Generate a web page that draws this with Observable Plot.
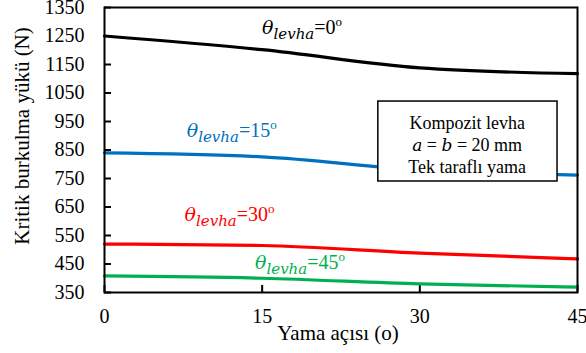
<!DOCTYPE html>
<html><head><meta charset="utf-8">
<script src="https://cdn.jsdelivr.net/npm/d3@7"></script>
<script src="https://cdn.jsdelivr.net/npm/@observablehq/plot@0.6"></script>
<style>body{margin:0;background:#fff}</style>
</head><body><div id="chart"></div>
<script>
// Data
const angles = [0, 15, 30, 45];
const plate0 = [1250, 1202, 1138, 1118];
const plate15 = [840, 826, 780, 762];
const plate30 = [520, 515, 488, 468];
const plate45 = [408, 400, 380, 369];
const seriesNames = ["0", "15", "30", "45"];
const seriesColors = ["#000000", "#0070C0", "#FF0000", "#00B050"];
const yTicks = [350, 450, 550, 650, 750, 850, 950, 1050, 1150, 1250, 1350];
const xTicks = [0, 15, 30, 45];
const xTitle = "Yama açısı (o)";
const yTitle = "Kritik burkulma yükü (N)";
// annotation anchors (data units)
const labelX = [18.8, 12.1, 11.9, 18.6];
const labelY = [1280, 918, 624, 455];
const boxLines = ["Kompozit levha", "a = b = 20 mm", "Tek taraflı yama"];
const boxLineY = [943, 866, 789];

const seriesValues = [plate0, plate15, plate30, plate45];
const rows = seriesValues.map(vals => angles.map((a, i) => ({angle: a, load: vals[i]})));
const labels = seriesNames.map((s, i) => ({name: s, x: labelX[i], y: labelY[i], color: seriesColors[i]}));
const box = [{x1: 26.05, x2: 43.1, y1: 739.5, y2: 1020}];
const boxText = boxLines.map((t, i) => ({t, x: 34.5, y: boxLineY[i]}));

const W = 586, H = 353, mL = 104, mR = 9, mT = 7, mB = 61;
const innerW = W - mL - mR, innerH = H - mT - mB;
const serif = "'Liberation Serif', 'Times New Roman', serif";

const svg = Plot.plot({
  width: W, height: H,
  marginLeft: mL, marginRight: mR, marginTop: mT, marginBottom: mB,
  style: {fontFamily: serif, fontSize: "20px", color: "#000", background: "#fff"},
  x: {domain: [0, 45], label: null},
  y: {domain: [350, 1350], label: null},
  marks: [
    Plot.axisX({ticks: xTicks, tickSize: 0, tickPadding: 16, tickFormat: d => String(d), fontSize: 20, fontFamily: serif}),
    Plot.axisY({ticks: yTicks, tickSize: 0, tickPadding: 20, tickFormat: d => String(d), fontSize: 20, fontFamily: serif}),
    Plot.tickX(xTicks, {x: d => d, insetTop: innerH - 7, stroke: "#000", strokeWidth: 2}),
    Plot.tickY(yTicks, {y: d => d, insetRight: innerW - 7, stroke: "#000", strokeWidth: 2}),
    ...rows.map((r, i) => Plot.line(r, {x: "angle", y: "load", stroke: seriesColors[i], strokeWidth: 3.2, curve: "monotone-x"})),
    Plot.rect(box, {x1: "x1", x2: "x2", y1: "y1", y2: "y2", fill: "#fff", stroke: "#000", strokeWidth: 1.5}),
    Plot.text(boxText, {x: "x", y: "y", text: "t", fontSize: 18, fontFamily: serif, fill: "#000"}),
    Plot.text(labels, {x: "x", y: "y", text: d => "θlevha=" + d.name + "o", fill: "color", fontSize: 20, fontFamily: serif}),
    Plot.text([xTitle], {frameAnchor: "bottom", text: d => d, textAnchor: "middle", lineAnchor: "middle", dy: 41, dx: -3, fontSize: 21, fontFamily: serif, fill: "#000"}),
    Plot.text([yTitle], {frameAnchor: "left", text: d => d, textAnchor: "middle", lineAnchor: "middle", rotate: -90, dx: -82, dy: -14, fontSize: 21, fontFamily: serif, fill: "#000"}),
    Plot.frame({stroke: "#000", strokeWidth: 2})
  ]
});

const NS = "http://www.w3.org/2000/svg";
function span(parent, txt, attrs) {
  const t = document.createElementNS(NS, "tspan");
  t.textContent = txt;
  for (const k in attrs) t.setAttribute(k, attrs[k]);
  parent.appendChild(t);
  return t;
}
const mathFont = "'DejaVu Serif', serif";
svg.querySelectorAll("text").forEach(el => {
  const s = el.textContent;
  const m = s.match(/^θlevha=(\d+)o$/);
  if (m) {
    el.textContent = "";
    span(el, "θ", {"font-family": mathFont, "font-style": "italic", "font-size": 19});
    span(el, "levha", {"font-family": mathFont, "font-style": "italic", "font-size": 15, dy: 5});
    span(el, "=" + m[1], {"font-size": 20, dy: -5});
    span(el, "o", {"font-size": 13, dy: -8});
  } else if (s === "a = b = 20 mm") {
    el.textContent = "";
    span(el, "a", {"font-family": mathFont, "font-style": "italic", "font-size": 17});
    span(el, " = ", {});
    span(el, "b", {"font-family": mathFont, "font-style": "italic", "font-size": 17});
    span(el, " = 20 mm", {});
  }
});
document.getElementById("chart").appendChild(svg);
</script>
</body></html>
